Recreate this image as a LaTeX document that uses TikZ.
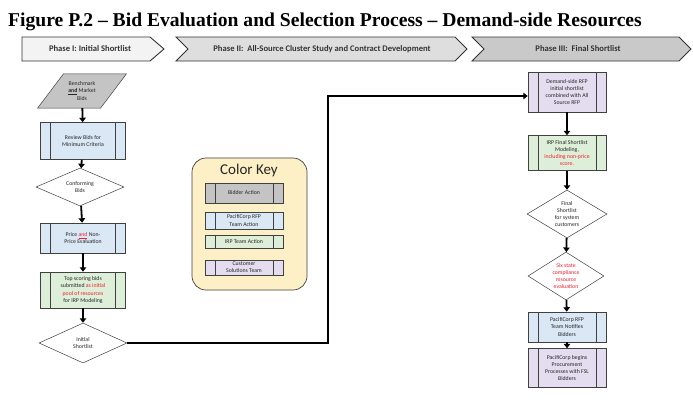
\documentclass[tikz,border=0pt]{standalone}
\usepackage{fontspec}
\setmainfont{Carlito}
\newfontfamily\titlefont{Liberation Serif}
\usetikzlibrary{shapes.geometric,arrows.meta,calc}

\definecolor{edge}{HTML}{404040}
\definecolor{bidgray}{HTML}{C4C4C4}
\definecolor{rfpblue}{HTML}{DAE7F4}
\definecolor{irpgreen}{HTML}{DDEFD8}
\definecolor{cstpurple}{HTML}{E4DDF0}
\definecolor{keyfill}{HTML}{FDF0C6}
\definecolor{ph1}{HTML}{F3F3F3}
\definecolor{ph2}{HTML}{DEDEDE}
\definecolor{ph3}{HTML}{C9C9C9}
\definecolor{txtred}{HTML}{F0202E}

\tikzset{
  tx/.style={font=\fontsize{5.8}{7.2}\selectfont, align=center, inner sep=0pt, text=black!85},
  phasetx/.style={font=\fontsize{8.6}{9}\selectfont\bfseries, inner sep=0pt, text=black!80},
  chevron/.style={draw=black!80, line width=0.9pt},
  procbox/.style={draw=edge, line width=0.5pt, inner sep=0pt,
    path picture={
      \draw[edge, line width=0.5pt]
        ([xshift=10pt]path picture bounding box.north west) -- ([xshift=10pt]path picture bounding box.south west)
        ([xshift=-10pt]path picture bounding box.north east) -- ([xshift=-10pt]path picture bounding box.south east);
    }},
  decide/.style={diamond, draw=edge, line width=0.5pt, fill=white, inner sep=0pt},
  flow/.style={line width=1.8pt, -{Triangle[length=4.5pt,width=6.5pt]}},
}

\begin{document}
\begin{tikzpicture}[x=1pt, y=-1pt]
\useasboundingbox (0,0) rectangle (693,407);

% title
\node[anchor=base west, inner sep=0pt, font=\titlefont\fontsize{19.6}{21}\selectfont\bfseries] (title) at (8,26)
  {Figure P.2 – Bid Evaluation and Selection Process – Demand-side Resources};

% phase banners
\draw[chevron, fill=ph1] (22,37) -- (150,37) -- (164,49) -- (150,61) -- (22,61) -- cycle;
\draw[chevron, fill=ph2] (176,37) -- (455,37) -- (467,49) -- (455,61) -- (176,61) -- (188,49) -- cycle;
\draw[chevron, fill=ph3] (472,37) -- (679,37) -- (691,49) -- (679,61) -- (472,61) -- (484,49) -- cycle;
\node[phasetx] (p1) at (90,49) {Phase I: Initial Shortlist};
\node[phasetx] (p2) at (322,49) {Phase II:\ \ All-Source Cluster Study and Contract Development};
\node[phasetx] (p3) at (578,49) {Phase III:\ \ Final Shortlist};

% left column: initial shortlist
% bid input (parallelogram drawn round an invisible anchor node)
\node[minimum width=63pt, minimum height=34pt, inner sep=0pt] (bench) at (82,91) {};
\draw[draw=edge, line width=0.5pt, fill=bidgray]
  ($(bench.north)+(-18.5,0)$) -- ($(bench.north)+(44.5,0)$) --
  ($(bench.south)+(18.5,0)$) -- ($(bench.south)+(-44.5,0)$) -- cycle;
\node[tx] at (bench) {Benchmark\\ \underline{\textbf{and}} Market\\ Bids};

\node[procbox, fill=rfpblue, minimum width=85pt, minimum height=37pt] (review) at (83,141) {};
\node[tx] at (review) {Review Bids for\\ Minimum Criteria};

\node[decide, minimum width=88pt, minimum height=38pt] (conf) at (80,187) {};
\node[tx] at (conf) {Conforming\\ Bids};

\node[procbox, fill=rfpblue, minimum width=85pt, minimum height=30pt] (price) at (83,238) {};
\node[tx] at (price) {Price \textcolor{txtred}{\underline{and}} Non-\\ Price Evaluation};

\node[procbox, fill=irpgreen, minimum width=85pt, minimum height=36pt] (top) at (83,290) {};
\node[tx] at (top) {Top scoring bids\\ submitted \textcolor{txtred}{as initial}\\ \textcolor{txtred}{pool of resources}\\ for IRP Modeling};

\node[decide, minimum width=88pt, minimum height=40pt] (init) at (83,343) {};
\node[tx] at (init) {Initial\\ Shortlist};

\draw[flow] (bench) -- (review);
\draw[flow] (review) -- (conf);
\draw[flow] (conf) -- (price);
\draw[flow] (price) -- (top);
\draw[flow] (top) -- (init);

% colour key
\node[draw=edge, line width=0.7pt, fill=keyfill, rounded corners=14pt, minimum width=115pt, minimum height=132pt, inner sep=0pt]
  (key) at (249.5,224) {};
\node[font=\fontsize{15}{16}\selectfont, inner sep=0pt, text=black!85] (keytitle) at (249,170) {Color Key};
\node[procbox, fill=bidgray, minimum width=78pt, minimum height=20pt] (k1) at (244,193) {};
\node[tx] at (k1) {Bidder Action};
\node[procbox, fill=rfpblue, minimum width=78pt, minimum height=17pt] (k2) at (244,220.5) {};
\node[tx] at (k2) {PacifiCorp RFP\\ Team Action};
\node[procbox, fill=irpgreen, minimum width=78pt, minimum height=13pt] (k3) at (244,242) {};
\node[tx] at (k3) {IRP Team Action};
\node[procbox, fill=cstpurple, minimum width=78pt, minimum height=15pt] (k4) at (244,267.5) {};
\node[tx] at (k4) {Customer\\ Solutions Team};

% right column: final shortlist
\node[procbox, fill=cstpurple, minimum width=78pt, minimum height=40pt] (dsr) at (567,92) {};
\node[tx] at (dsr) {Demand-side RFP\\ initial shortlist\\ combined with All\\ Source RFP};

\node[procbox, fill=irpgreen, minimum width=78pt, minimum height=35pt] (irp) at (567,153) {};
\node[tx] at (irp) {IRP Final Shortlist\\ Modeling,\\ \textcolor{txtred}{including non-price}\\ \textcolor{txtred}{score.}};

\node[decide, minimum width=80pt, minimum height=48pt] (fsl) at (567,214) {};
\node[tx] at (fsl) {Final\\ Shortlist\\ for system\\ customers};

\node[decide, minimum width=76pt, minimum height=48pt] (six) at (566,276) {};
\node[tx, text=txtred] at (six) {Six state\\ compliance\\ resource\\ evaluation};

\node[procbox, fill=rfpblue, minimum width=78pt, minimum height=30pt] (notify) at (567,327) {};
\node[tx] at (notify) {PacifiCorp RFP\\ Team Notifies\\ Bidders};

\node[procbox, fill=cstpurple, minimum width=78pt, minimum height=39pt] (begin) at (567,368) {};
\node[tx] at (begin) {PacifiCorp begins\\ Procurement\\ Processes with FSL\\ Bidders};

\draw[flow] (dsr) -- (irp);
\draw[flow] (irp) -- (fsl);
\draw[flow] (fsl) -- (six);
\draw[flow] (six) -- (notify);
\draw[flow] (notify) -- (begin);

% hand-over from the initial shortlist to phase III
\coordinate (turn) at (328,96);
\draw[flow] (init.east) -| (turn) -- (turn -| dsr.west);
\end{tikzpicture}
\end{document}
